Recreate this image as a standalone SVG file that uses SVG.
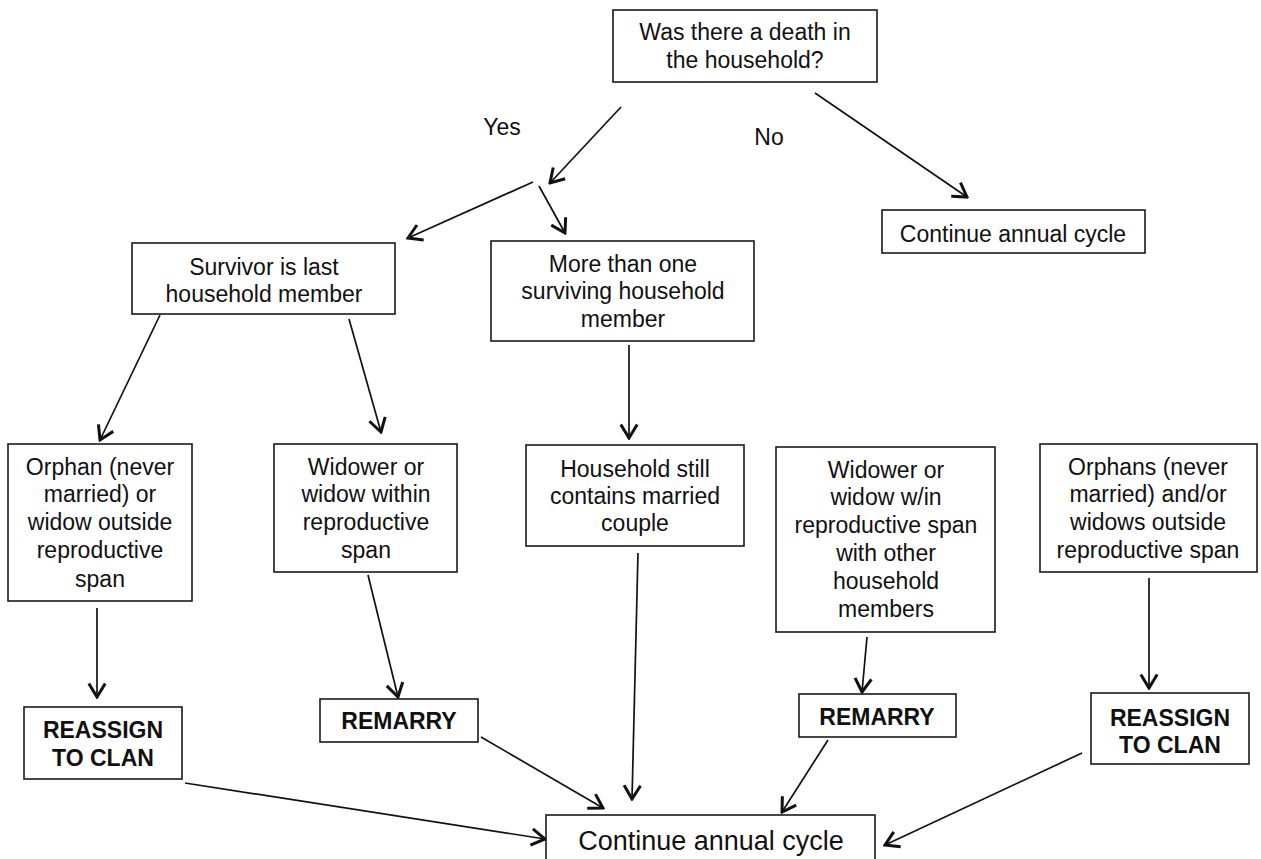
<svg xmlns="http://www.w3.org/2000/svg" width="1261" height="859" viewBox="0 0 1261 859">
<style>
.box{fill:#fff;stroke:#1a1a1a;stroke-width:1.6}
.t{font-family:"Liberation Sans",Arial,sans-serif;font-size:23px;fill:#111;text-anchor:middle}
.b{font-weight:bold}
.c{fill:none;stroke:#111;stroke-width:1.7;marker-end:url(#ah)}
</style>
<defs>
<marker id="ah" markerUnits="userSpaceOnUse" viewBox="0 0 17 20" refX="15" refY="10" markerWidth="17" markerHeight="20" orient="auto">
<path d="M1.5,1.8 L15,10 L1.5,18.2" fill="none" stroke="#111" stroke-width="3" stroke-linejoin="miter"/>
</marker>
</defs>
<rect width="1261" height="859" fill="#fff"/>
<g id="connectors">
<path class="c" d="M621,107 L550,183"/>
<path class="c" d="M533,182 L408,238"/>
<path class="c" d="M539,186 L565,233"/>
<path class="c" d="M815,93 L967,197"/>
<path class="c" d="M160,315 L100,440"/>
<path class="c" d="M349,319 L381,432"/>
<path class="c" d="M629,345 L629,438"/>
<path class="c" d="M97,608 L97,697"/>
<path class="c" d="M368,575 L398,697"/>
<path class="c" d="M638,553 L632,799"/>
<path class="c" d="M867,637 L862,692"/>
<path class="c" d="M1149,578 L1149,688"/>
<path class="c" d="M185,783 L545,839"/>
<path class="c" d="M481,737 L603,808"/>
<path class="c" d="M828,740 L782,812"/>
<path class="c" d="M1082,753 L885,845"/>
<text class="t" x="502" y="135">Yes</text>
<text class="t" x="769" y="145">No</text>
</g>
<g id="n-death">
<rect class="box" x="613" y="10" width="264" height="72"/>
<text class="t" x="745" y="40">Was there a death in</text>
<text class="t" x="745" y="68">the household?</text>
</g>
<g id="n-continue-top">
<rect class="box" x="882" y="210" width="263" height="43"/>
<text class="t" x="1013" y="242">Continue annual cycle</text>
</g>
<g id="n-survivor">
<rect class="box" x="132" y="243" width="263" height="71"/>
<text class="t" x="264" y="275">Survivor is last</text>
<text class="t" x="264" y="302">household member</text>
</g>
<g id="n-more">
<rect class="box" x="491" y="241" width="263" height="100"/>
<text class="t" x="623" y="272">More than one</text>
<text class="t" x="623" y="299">surviving household</text>
<text class="t" x="623" y="327">member</text>
</g>
<g id="n-orphan">
<rect class="box" x="8" y="444" width="184" height="157"/>
<text class="t" x="100" y="475">Orphan (never</text>
<text class="t" x="100" y="502">married) or</text>
<text class="t" x="100" y="530">widow outside</text>
<text class="t" x="100" y="558">reproductive</text>
<text class="t" x="100" y="587">span</text>
</g>
<g id="n-widower-within">
<rect class="box" x="274" y="444" width="183" height="128"/>
<text class="t" x="366" y="475">Widower or</text>
<text class="t" x="366" y="502">widow within</text>
<text class="t" x="366" y="530">reproductive</text>
<text class="t" x="366" y="558">span</text>
</g>
<g id="n-household-still">
<rect class="box" x="526" y="445" width="218" height="101"/>
<text class="t" x="635" y="477">Household still</text>
<text class="t" x="635" y="504">contains married</text>
<text class="t" x="635" y="531">couple</text>
</g>
<g id="n-widower-win">
<rect class="box" x="776" y="447" width="219" height="185"/>
<text class="t" x="886" y="478">Widower or</text>
<text class="t" x="886" y="505">widow w/in</text>
<text class="t" x="886" y="533">reproductive span</text>
<text class="t" x="886" y="561">with other</text>
<text class="t" x="886" y="589">household</text>
<text class="t" x="886" y="617">members</text>
</g>
<g id="n-orphans">
<rect class="box" x="1040" y="444" width="217" height="128"/>
<text class="t" x="1148" y="475">Orphans (never</text>
<text class="t" x="1148" y="502">married) and/or</text>
<text class="t" x="1148" y="530">widows outside</text>
<text class="t" x="1148" y="558">reproductive span</text>
</g>
<g id="n-reassign-left">
<rect class="box" x="24" y="707" width="158" height="72"/>
<text class="t b" x="103" y="738">REASSIGN</text>
<text class="t b" x="103" y="766">TO CLAN</text>
</g>
<g id="n-remarry-left">
<rect class="box" x="320" y="699" width="158" height="43"/>
<text class="t b" x="399" y="729">REMARRY</text>
</g>
<g id="n-remarry-right">
<rect class="box" x="799" y="694" width="157" height="43"/>
<text class="t b" x="877" y="725">REMARRY</text>
</g>
<g id="n-reassign-right">
<rect class="box" x="1091" y="693" width="158" height="71"/>
<text class="t b" x="1170" y="726">REASSIGN</text>
<text class="t b" x="1170" y="753">TO CLAN</text>
</g>
<g id="n-continue-final">
<rect class="box" x="546" y="815" width="329" height="50"/>
<text class="t" x="711" y="850" style="font-size:27px">Continue annual cycle</text>
</g>
</svg>
